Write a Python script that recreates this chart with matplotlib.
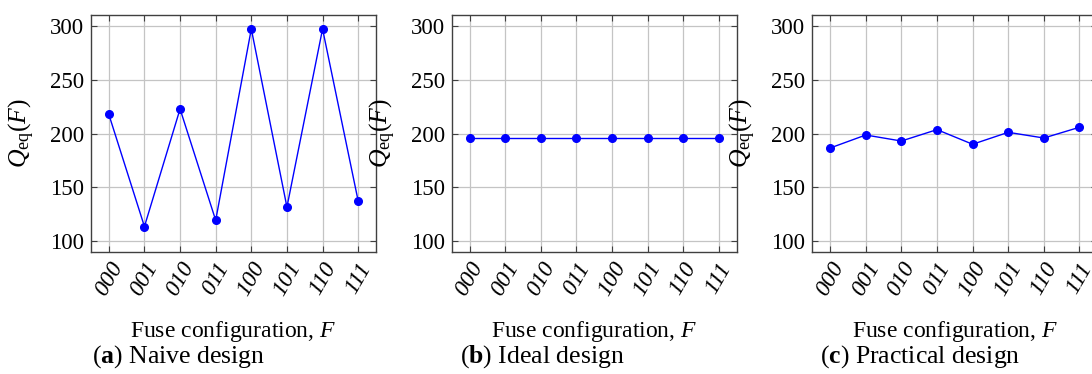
import matplotlib
matplotlib.use("Agg")
import matplotlib.pyplot as plt

plt.rcParams['font.family'] = ['Liberation Serif', 'DejaVu Serif']
plt.rcParams['mathtext.fontset'] = 'custom'
plt.rcParams['mathtext.rm'] = 'Liberation Serif'
plt.rcParams['mathtext.it'] = 'Liberation Serif:italic'
plt.rcParams['mathtext.bf'] = 'Liberation Serif:bold'

configs = ["000", "001", "010", "011", "100", "101", "110", "111"]
naive = [217.8, 113.5, 222.8, 119.3, 297.2, 131.6, 297.2, 137.2]
ideal = [196.1, 196.1, 196.1, 196.1, 196.1, 196.1, 196.1, 196.1]
practical = [186.5, 198.6, 193.0, 203.6, 190.0, 201.1, 195.8, 205.8]
yticks = [100, 150, 200, 250, 300]
captions = [("a", "Naive design"), ("b", "Ideal design"), ("c", "Practical design")]
series = [naive, ideal, practical]

W, H = 1092, 374
fig = plt.figure(figsize=(W / 100, H / 100), dpi=100)

lefts = [91, 451.7, 812.3]
cap_x = [92, 460, 820]
top_px, bot_px = 15, 252
aw = 285

for i, (vals, (letter, cap)) in enumerate(zip(series, captions)):
    ax = fig.add_axes([lefts[i] / W, 1 - bot_px / H, aw / W, (bot_px - top_px) / H])
    x = list(range(len(configs)))
    ax.plot(x, vals, color='#0000ff', lw=1.0, marker='o', ms=5.5, zorder=3,
            clip_on=False)
    ax.set_xlim(-0.5, 7.5)
    ax.set_ylim(89.8, 310.2)
    ax.set_yticks(yticks)
    ax.set_xticks(x)
    ax.set_xticklabels(configs, rotation=60, ha='center', va='center',
                       rotation_mode='anchor', fontstyle='italic', fontsize=17)
    ax.tick_params(axis='y', labelsize=16.5, pad=5)
    ax.tick_params(direction='in', length=4, width=0.8, color='#404040',
                   top=True, right=True)
    ax.tick_params(axis='x', pad=19)
    ax.grid(True, color='#c4c4c4', lw=0.9)
    ax.set_axisbelow(True)
    for s in ax.spines.values():
        s.set_color('#404040')
        s.set_linewidth(1.0)
    ax.set_ylabel(r"$Q_{\mathrm{eq}}(F)$", fontsize=18.5)
    ax.yaxis.set_label_coords(-0.242, 0.5)
    ax.yaxis.label.set_va('center')
    ax.set_xlabel(r"Fuse configuration, $F$", fontsize=17)
    ax.xaxis.set_label_coords(0.5, -0.282)
    fig.text(cap_x[i] / W, 1 - 363 / H, r"($\mathbf{" + letter + r"}$) " + cap,
             fontsize=18.5, va='baseline', ha='left')

fig.savefig("out.png", dpi=100)
